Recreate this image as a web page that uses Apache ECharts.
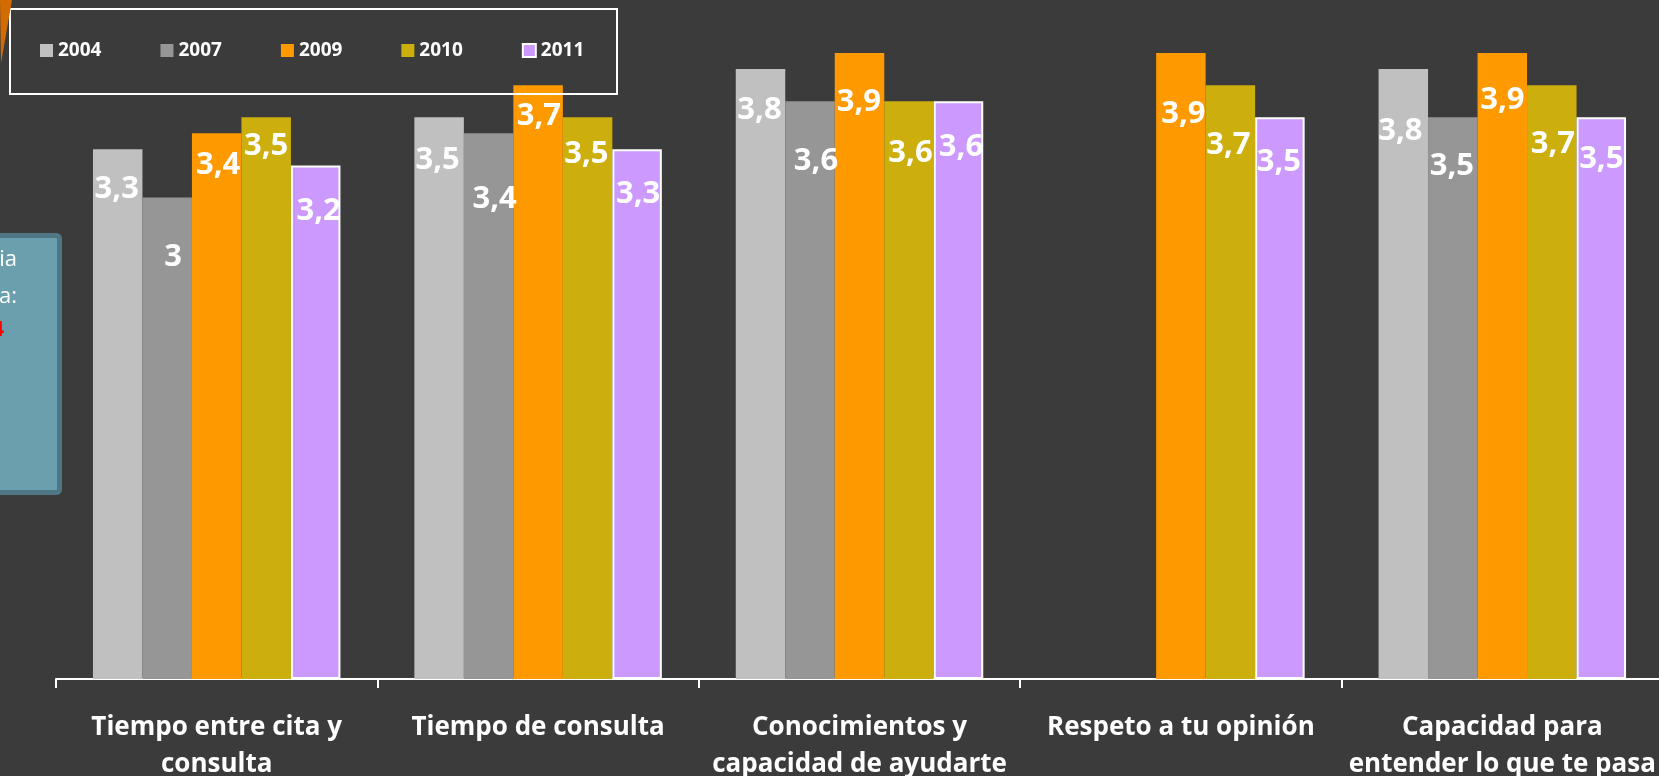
<!DOCTYPE html>
<html>
<head>
<meta charset="utf-8">
<script src="https://cdn.jsdelivr.net/npm/echarts@6/dist/echarts.min.js"></script>
<style>
html,body{margin:0;padding:0;background:#3b3b3b;}
#chart{width:1659px;height:776px;}
</style>
</head>
<body>
<div id="chart"></div>
<script>
// ---- data ----
var categories = [
  'Tiempo entre cita y\nconsulta',
  'Tiempo de consulta',
  'Conocimientos y\ncapacidad de ayudarte',
  'Respeto a tu opinión',
  'Capacidad para\nentender lo que te pasa'
];
var years = ['2004', '2007', '2009', '2010', '2011'];
var values2004 = [3.3, 3.5, 3.8, null, 3.8];
var values2007 = [3.0, 3.4, 3.6, null, 3.5];
var values2009 = [3.4, 3.7, 3.9, 3.9, 3.9];
var values2010 = [3.5, 3.5, 3.6, 3.7, 3.7];
var values2011 = [3.2, 3.3, 3.6, 3.5, 3.5];

// ---- label placement (layout only) ----
var labelDy = [
  [37.5, 40.7, 38.7, 0, 60.3],
  [57.2, 63.8, 58.3, 0, 46.7],
  [30, 29.3, 46.7, 59.3, 44.7],
  [27.3, 35.3, 50, 58, 57],
  [43.8, 43, 44, 42.7, 40]
];
var labelDx = [
  [-1, -1.5, -1, 0, -3],
  [6, 6, 6, 0, -1],
  [1.5, 0.7, -0.7, 2.5, 0],
  [0, -1.2, 1.5, -2, 1],
  [3, 1, 2.5, -1, 0]
];
var colors = ['#c0c0c0', '#969696', '#ff9900', '#ccaf0c', '#cc99ff'];

var allValues = [values2004, values2007, values2009, values2010, values2011];
var FONT = '"Open Sans", "Noto Sans", sans-serif';

function fmt(v) { return String(v).replace('.', ','); }

var series = years.map(function (y, si) {
  return {
    name: y,
    type: 'bar',
    barGap: '0%',
    barCategoryGap: '23%',
    itemStyle: si === 4 ? { color: colors[si], borderColor: '#ffffff', borderWidth: 2 } : { color: colors[si] },
    data: allValues[si].map(function (v, ci) {
      if (v === null) return '-';
      return {
        value: v,
        label: {
          show: true,
          position: ['50%', labelDy[si][ci] + 2],
          align: 'center',
          verticalAlign: 'middle',
          offset: [labelDx[si][ci], 0],
          formatter: function (p) { return fmt(p.value); },
          color: '#ffffff',
          fontFamily: FONT,
          fontWeight: 'bold',
          fontSize: 31
        }
      };
    })
  };
});

var chart = echarts.init(document.getElementById('chart'), null, { renderer: 'canvas' });
chart.setOption({
  backgroundColor: '#3b3b3b',
  animation: false,
  color: colors,
  grid: { left: 56, top: 37, width: 1607, height: 642, containLabel: false, outerBoundsMode: 'none' },
  legend: {
    data: years,
    left: 40,
    top: 41,
    padding: 0,
    icon: 'rect',
    itemWidth: 13,
    itemHeight: 13,
    itemGap: 59,
    selectedMode: false,
    textStyle: { color: '#ffffff', fontFamily: FONT, fontWeight: 'bold', fontSize: 19 }
  },
  xAxis: {
    type: 'category',
    data: categories,
    axisLine: { lineStyle: { color: '#ffffff', width: 2 } },
    axisTick: { show: true, length: 9, lineStyle: { color: '#ffffff', width: 2 }, alignWithLabel: false },
    axisLabel: {
      interval: 0,
      margin: 30,
      color: '#ffffff',
      fontFamily: FONT,
      fontWeight: 'bold',
      fontSize: 26,
      lineHeight: 37
    }
  },
  yAxis: {
    type: 'value',
    min: 0,
    max: 4,
    show: false,
    splitLine: { show: false }
  },
  graphic: [
    { type: 'rect', shape: { x: 10, y: 9, width: 607, height: 85 }, style: { fill: 'none', stroke: '#ffffff', lineWidth: 2 }, z: 10 },
    { type: 'polygon', shape: { points: [[0, 0], [12, 0], [1, 63]] }, style: { fill: '#d26c00' }, z: 10 },
    { type: 'rect', shape: { x: -10, y: 235.5, width: 69.5, height: 257, r: 3 }, style: { fill: '#6c9fae', stroke: '#4e7684', lineWidth: 5 }, z: 10 },
    { type: 'text', x: 17, y: 260, style: { text: 'ia', fill: '#ffffff', font: '22px ' + FONT, textAlign: 'right', textVerticalAlign: 'middle' }, z: 11 },
    { type: 'text', x: 17, y: 297, style: { text: 'a:', fill: '#ffffff', font: '22px ' + FONT, textAlign: 'right', textVerticalAlign: 'middle' }, z: 11 },
    { type: 'text', x: 4, y: 330, style: { text: '4', fill: '#ff0000', font: 'bold 22px ' + FONT, textAlign: 'right', textVerticalAlign: 'middle' }, z: 11 }
  ],
  series: series
});
</script>
</body>
</html>
